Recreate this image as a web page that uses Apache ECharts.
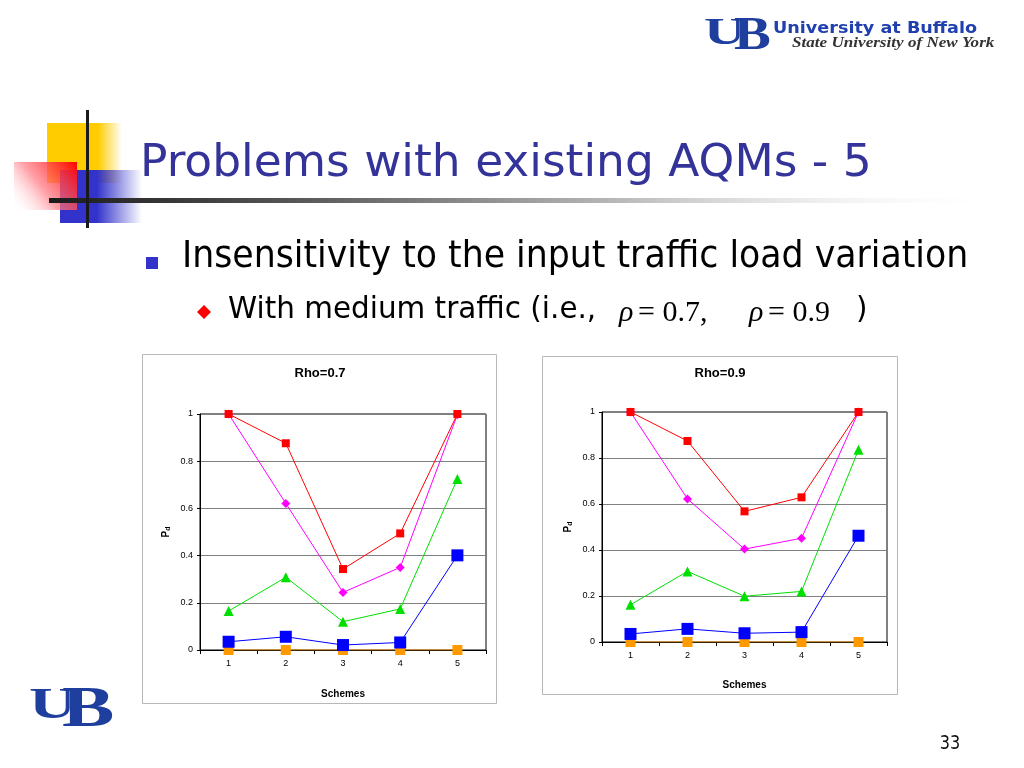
<!DOCTYPE html>
<html>
<head>
<meta charset="utf-8">
<script src="https://cdn.jsdelivr.net/npm/echarts@6/dist/echarts.min.js"></script>
<style>
html,body{margin:0;padding:0;background:#fff;}
#c{width:1024px;height:768px;}
</style>
</head>
<body>
<div id="c"></div>
<script>
// ---- data ----
const categories = ['1', '2', '3', '4', '5'];
const yTickLabels = ['0', '0.2', '0.4', '0.6', '0.8', '1'];
const chartTitles = ['Rho=0.7', 'Rho=0.9'];

const rho07Red     = [1.0, 0.876, 0.343, 0.494, 1.0];
const rho07Magenta = [1.0, 0.621, 0.244, 0.350, 0.997];
const rho07Green   = [0.165, 0.308, 0.120, 0.174, 0.725];
const rho07Blue    = [0.035, 0.056, 0.021, 0.032, 0.401];
const rho07Orange  = [0, 0, 0, 0, 0];

const rho09Red     = [1.0, 0.874, 0.568, 0.629, 1.0];
const rho09Magenta = [1.0, 0.622, 0.404, 0.451, 1.0];
const rho09Green   = [0.162, 0.307, 0.199, 0.220, 0.836];
const rho09Blue    = [0.035, 0.057, 0.038, 0.043, 0.462];
const rho09Orange  = [0, 0, 0, 0, 0];

// ---- build ----
const SANS = 'DejaVu Sans';
const ARIAL = 'Liberation Sans';
const SERIF = 'Liberation Serif';

const seriesStyles = {
  orange:  {color: '#FF9900', symbol: 'rect', size: 10},
  green:   {color: '#00E000', symbol: 'triangle', size: 10},
  magenta: {color: '#FF00FF', symbol: 'diamond', size: 9},
  red:     {color: '#FF0000', symbol: 'rect', size: 8},
  blue:    {color: '#0000FF', symbol: 'rect', size: 12}
};

function mk(name, data, gi, key) {
  const s = seriesStyles[key];
  return {
    name: name, type: 'line', xAxisIndex: gi, yAxisIndex: gi, data: data,
    symbol: s.symbol, symbolSize: s.size, showSymbol: true,
    lineStyle: {color: s.color, width: 1},
    itemStyle: {color: s.color},
    animation: false, silent: true
  };
}

const grids = [
  {left: 200, top: 414, width: 286, height: 236},
  {left: 602, top: 412, width: 285, height: 230}
];
const xNameGaps = [39, 38];

function xAxisFor(i) {
  return {
    gridIndex: i, type: 'category', data: categories, boundaryGap: true,
    axisLine: {show: true, lineStyle: {color: '#000', width: 1}},
    axisTick: {show: true, length: 4, lineStyle: {color: '#000'}},
    axisLabel: {color: '#000', fontSize: 9, fontFamily: ARIAL, margin: 9},
    splitLine: {show: false},
    name: 'Schemes', nameLocation: 'middle', nameGap: xNameGaps[i],
    nameTextStyle: {color: '#000', fontSize: 10, fontWeight: 'bold', fontFamily: ARIAL}
  };
}
function yAxisFor(i) {
  return {
    gridIndex: i, type: 'value', min: 0, max: 1, interval: 0.2,
    axisLine: {show: true, lineStyle: {color: '#000', width: 1}},
    axisTick: {show: true, length: 3, lineStyle: {color: '#000'}},
    axisLabel: {color: '#000', fontSize: 9, fontFamily: ARIAL, margin: 7,
      formatter: function (v) { return yTickLabels[Math.round(v / 0.2)]; }},
    splitLine: {show: true, lineStyle: {color: '#808080', width: 1}},
    name: '{p|P}{d|d}', nameLocation: 'middle', nameGap: 28,
    nameTextStyle: {rich: {
      p: {fontSize: 10, fontWeight: 'bold', fontFamily: ARIAL, color: '#000'},
      d: {fontSize: 7, fontWeight: 'bold', fontFamily: ARIAL, color: '#000', padding: [5, 0, 0, 0]}
    }}
  };
}

function txt(x, y, text, font, opts) {
  opts = opts || {};
  return {
    type: 'text', x: x, y: y, scaleX: opts.scaleX || 1, z: opts.z || 10,
    style: {
      text: text, fontSize: font.size, fontFamily: font.family,
      fontWeight: font.weight || 'normal', fontStyle: font.style || 'normal',
      fill: opts.fill || '#000', align: opts.align || 'left', verticalAlign: 'middle'
    }
  };
}

const graphics = [
  // chart frames
  {type: 'rect', shape: {x: 142.5, y: 354.5, width: 354, height: 349}, style: {fill: '#fff', stroke: '#b8b8b8', lineWidth: 1}, z: -10},
  {type: 'rect', shape: {x: 542.5, y: 356.5, width: 355, height: 338}, style: {fill: '#fff', stroke: '#b8b8b8', lineWidth: 1}, z: -10},
  // decoration
  {type: 'rect', shape: {x: 47, y: 123, width: 75, height: 60}, z: 1,
    style: {fill: new echarts.graphic.LinearGradient(0, 0, 1, 0, [
      {offset: 0, color: '#FFCC00'}, {offset: 0.68, color: '#FFCC00'}, {offset: 1, color: 'rgba(255,204,0,0)'}])}},
  {type: 'rect', shape: {x: 60, y: 170, width: 82, height: 53}, z: 2,
    style: {fill: new echarts.graphic.LinearGradient(0, 0, 1, 0, [
      {offset: 0, color: '#3333CC'}, {offset: 0.45, color: '#3333CC'}, {offset: 1, color: 'rgba(51,51,204,0)'}])}},
  {type: 'rect', shape: {x: 14, y: 162, width: 63, height: 48}, z: 3,
    style: {fill: new echarts.graphic.LinearGradient(1, 0, 0, 1, [
      {offset: 0, color: '#FF0000'}, {offset: 0.55, color: 'rgba(255,120,130,0.7)'}, {offset: 1, color: 'rgba(255,255,255,0)'}])}},
  {type: 'rect', shape: {x: 49, y: 198, width: 960, height: 5}, z: 4,
    style: {fill: new echarts.graphic.LinearGradient(0, 0, 1, 0, [
      {offset: 0, color: '#1a1a1a'}, {offset: 0.25, color: '#555'}, {offset: 0.6, color: '#bbb'}, {offset: 1, color: 'rgba(255,255,255,0)'}])}},
  {type: 'rect', shape: {x: 86, y: 110, width: 3, height: 118}, z: 5, style: {fill: '#1a1a1a'}},
  // slide title
  txt(140, 164, 'Problems with existing AQMs - 5', {size: 45, family: SANS}, {fill: '#333399', scaleX: 1.011}),
  // bullets
  {type: 'rect', shape: {x: 146, y: 257, width: 12, height: 12}, style: {fill: '#3333CC'}, z: 10},
  txt(182, 257, 'Insensitivity to the input traffic load variation', {size: 38, family: SANS}, {scaleX: 0.914}),
  {type: 'polygon', shape: {points: [[204, 305], [211, 312], [204, 319], [197, 312]]}, style: {fill: '#FF0000'}, z: 10},
  txt(228, 310, 'With medium traffic (i.e.,', {size: 31, family: SANS}, {scaleX: 0.95}),
  txt(619, 313, 'ρ', {size: 30, family: SERIF, style: 'italic'}),
  txt(638, 313, '= 0.7,', {size: 30, family: SERIF}),
  txt(749, 313, 'ρ', {size: 30, family: SERIF, style: 'italic'}),
  txt(768, 313, '= 0.9', {size: 30, family: SERIF}),
  txt(856, 310, ')', {size: 31, family: SANS}, {scaleX: 0.95}),
  // chart titles
  txt(320, 373, chartTitles[0], {size: 13, family: ARIAL, weight: 'bold'}, {align: 'center'}),
  txt(720, 373, chartTitles[1], {size: 13, family: ARIAL, weight: 'bold'}, {align: 'center'}),
  // logos
  txt(704, 34, 'U', {size: 38, family: SERIF, weight: 'bold'}, {fill: '#1f3f9f', scaleX: 1.5}),
  txt(734, 37, 'B', {size: 46, family: SERIF, weight: 'bold'}, {fill: '#1f3f9f', scaleX: 1.2}),
  txt(773, 29, 'University at Buffalo', {size: 16, family: SANS, weight: 'bold'}, {fill: '#2040b0', scaleX: 1.1}),
  txt(792, 43, 'State University of New York', {size: 15, family: SERIF, weight: 'bold', style: 'italic'}, {fill: '#333', scaleX: 1.14}),
  txt(29, 706, 'U', {size: 45, family: SERIF, weight: 'bold'}, {fill: '#1f3f9f', scaleX: 1.45}),
  txt(62, 712, 'B', {size: 56, family: SERIF, weight: 'bold'}, {fill: '#1f3f9f', scaleX: 1.4}),
  // page number
  txt(950, 744, '33', {size: 19, family: SANS}, {align: 'center', scaleX: 0.85, fill: '#111'})
];

const option = {
  backgroundColor: '#fff',
  animation: false,
  grid: grids.map(g => Object.assign({show: true, borderColor: '#000', borderWidth: 1, backgroundColor: 'transparent', containLabel: false}, g)),
  xAxis: [xAxisFor(0), xAxisFor(1)],
  yAxis: [yAxisFor(0), yAxisFor(1)],
  series: [
    mk('orange', rho07Orange, 0, 'orange'),
    mk('green', rho07Green, 0, 'green'),
    mk('magenta', rho07Magenta, 0, 'magenta'),
    mk('red', rho07Red, 0, 'red'),
    mk('blue', rho07Blue, 0, 'blue'),
    mk('orange', rho09Orange, 1, 'orange'),
    mk('green', rho09Green, 1, 'green'),
    mk('magenta', rho09Magenta, 1, 'magenta'),
    mk('red', rho09Red, 1, 'red'),
    mk('blue', rho09Blue, 1, 'blue')
  ],
  graphic: graphics
};

const chart = echarts.init(document.getElementById('c'), null, {renderer: 'canvas', width: 1024, height: 768});
chart.setOption(option);
</script>
</body>
</html>
